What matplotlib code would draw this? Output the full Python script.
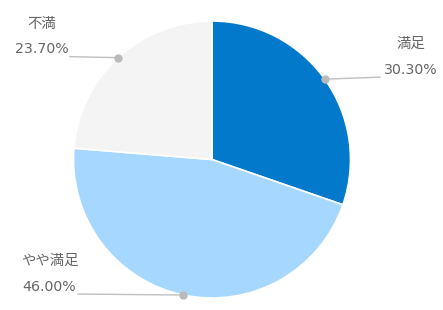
import matplotlib
matplotlib.use("Agg")
import matplotlib.pyplot as plt
import numpy as np

plt.rcParams['font.family'] = ['Noto Sans CJK JP', 'DejaVu Sans']

# data
labels = ["満足", "やや満足", "不満"]
values = [30.3, 46.0, 23.7]
colors = ["#0279CA", "#A6D8FF", "#F4F4F4"]

W, H = 443, 310
fig = plt.figure(figsize=(W / 100, H / 100), dpi=100)
ax = fig.add_axes([0, 0, 1, 1])

cx, cy, r = 212, H - 159.5, 138.5
ax.pie(values, colors=colors, startangle=90, counterclock=False,
       center=(cx, cy), radius=r, frame=True,
       wedgeprops=dict(edgecolor='white', linewidth=1.2))
ax.set_xlim(0, W)
ax.set_ylim(0, H)
ax.set_aspect('equal')
ax.axis('off')

# label layout: line end x, line end offset in y, side of text
layout = {
    "満足": dict(x_end=380, dy=2, side='right'),
    "やや満足": dict(x_end=78, dy=1, side='left'),
    "不満": dict(x_end=70, dy=1, side='left'),
}
txt_w = 55  # approx width of the percentage text

total = sum(values)
start = 0.0
for lab, v in zip(labels, values):
    mid = (start + v / 2) / total * 360
    start += v
    ang = np.deg2rad(90 - mid)
    px, py = cx + r * np.cos(ang), cy + r * np.sin(ang)
    lo = layout[lab]
    ex, ey = lo['x_end'], py + lo['dy']
    ax.plot([px, ex], [py, ey], color='#c0c0c0', lw=1, zorder=3)
    ax.plot(px, py, 'o', ms=6, color='#bbbbbb', mec='none', zorder=4)
    if lo['side'] == 'right':
        tcx = ex + 3 + txt_w / 2
    else:
        tcx = ex - 1 - txt_w / 2
    ax.text(tcx, ey + 7.5, f"{v:.2f}%", ha='center', va='center',
            fontsize=10.2, color='#666666', family='DejaVu Sans')
    ax.text(tcx, ey + 33, lab, ha='center', va='center',
            fontsize=10.4, color='#666666')

fig.savefig("out.png", dpi=100)
